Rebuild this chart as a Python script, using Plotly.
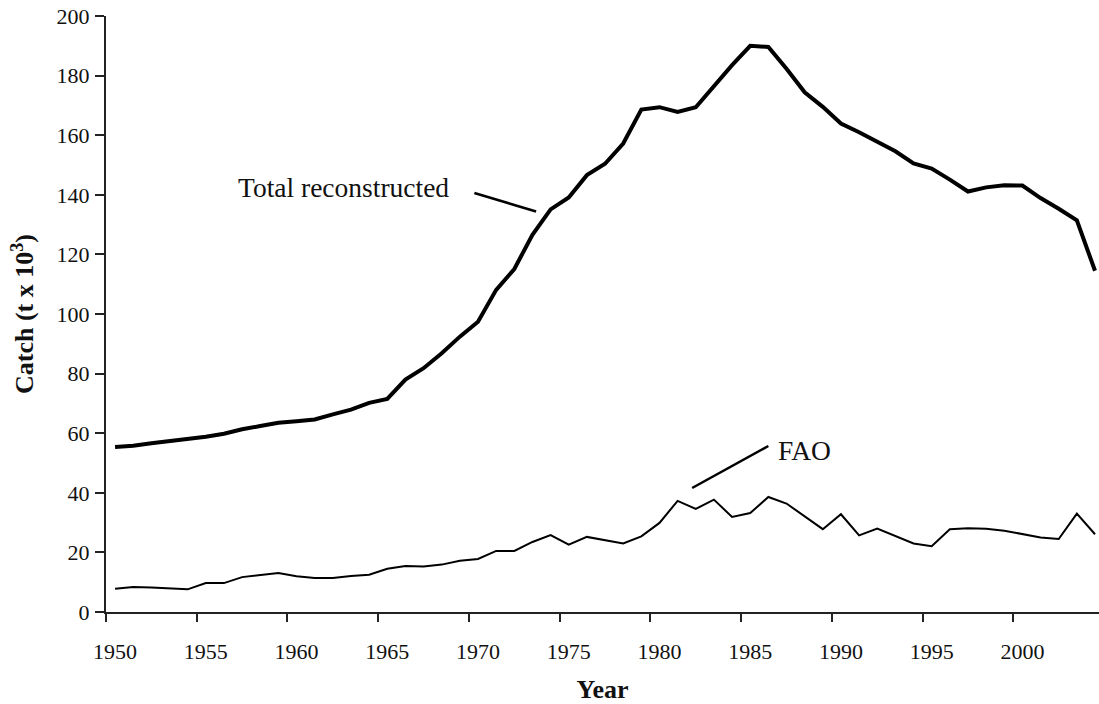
import plotly.graph_objects as go

years = list(range(1950, 2005))

total_reconstructed = [
    55.4, 55.8, 56.6, 57.3, 58.0, 58.8, 59.8, 61.3, 62.4, 63.5,
    64.0, 64.6, 66.3, 67.9, 70.2, 71.5, 78.0, 81.8, 86.8, 92.4,
    97.4, 108.1, 115.1, 126.6, 135.1, 139.1, 146.6, 150.4, 157.2, 168.6,
    169.4, 167.8, 169.4, 176.7, 183.5, 190.0, 189.6, 182.3, 174.4, 169.5,
    163.9, 161.0, 157.7, 154.6, 150.5, 148.8, 145.1, 141.1, 142.5, 143.2,
    143.1, 138.9, 135.3, 131.4, 114.5,
]

fao = [
    7.8, 8.4, 8.2, 7.9, 7.6, 9.7, 9.7, 11.7, 12.5, 13.1,
    12.0, 11.4, 11.4, 12.1, 12.5, 14.5, 15.4, 15.3, 15.9, 17.2,
    17.8, 20.5, 20.5, 23.5, 25.8, 22.6, 25.2, 24.1, 23.0, 25.4,
    29.9, 37.3, 34.6, 37.7, 31.9, 33.2, 38.6, 36.4, 32.1, 27.8,
    32.8, 25.7, 28.0, 25.5, 23.0, 22.1, 27.8, 28.1, 27.9, 27.3,
    26.1, 25.0, 24.5, 33.0, 26.1,
]

x_tick_years = list(range(1950, 2001, 5))
x_boundary_ticks = [y - 0.5 for y in range(1950, 2005, 5)]
y_ticks = list(range(0, 201, 20))

FONT = "Times New Roman, Liberation Serif, serif"

fig = go.Figure()
fig.add_trace(go.Scatter(x=years, y=total_reconstructed, mode="lines",
                         line=dict(color="black", width=4), name="Total reconstructed"))
fig.add_trace(go.Scatter(x=years, y=fao, mode="lines",
                         line=dict(color="black", width=2), name="FAO"))

# labels with leader lines
fig.add_annotation(x=1962.6, y=142.3, text="Total reconstructed", showarrow=False,
                   xanchor="center", yanchor="middle",
                   font=dict(family=FONT, size=27.5, color="#111"))
fig.add_shape(type="line", x0=1969.8, y0=140.6, x1=1973.2, y1=134.4,
              line=dict(color="black", width=2.5))
fig.add_annotation(x=1988.0, y=54.3, text="FAO", showarrow=False,
                   xanchor="center", yanchor="middle",
                   font=dict(family=FONT, size=27.5, color="#111"))
fig.add_shape(type="line", x0=1981.8, y0=41.6, x1=1986.0, y1=55.7,
              line=dict(color="black", width=2.5))

fig.update_layout(
    width=1099, height=704,
    margin=dict(l=106, r=0, t=16, b=92),
    paper_bgcolor="white", plot_bgcolor="white",
    showlegend=False,
    font=dict(family=FONT, color="#111"),
)

fig.update_xaxes(
    range=[1949.5, 2004.22],
    tickmode="array", tickvals=x_tick_years,
    ticktext=[str(v) for v in x_tick_years],
    ticks="outside", ticklen=8, tickcolor="rgba(0,0,0,0)",
    ticklabelstandoff=11,
    tickfont=dict(family=FONT, size=22, color="#111"),
    showline=True, linecolor="#222", linewidth=2,
    showgrid=False, zeroline=False,
    minor=dict(tickmode="array", tickvals=x_boundary_ticks, ticks="outside",
               ticklen=8, tickwidth=2, tickcolor="#222", showgrid=False),
    title=dict(text="<b>Year</b>", font=dict(family=FONT, size=26, color="#111"),
               standoff=22),
)

fig.update_yaxes(
    range=[0, 200],
    tickmode="array", tickvals=y_ticks,
    ticks="outside", ticklen=9, tickwidth=2, tickcolor="#222",
    ticklabelstandoff=1,
    tickfont=dict(family=FONT, size=22, color="#111"),
    showline=True, linecolor="#222", linewidth=2,
    showgrid=False, zeroline=False,
    title=dict(text="<b>Catch (t x 10<sup>3</sup>)</b>",
               font=dict(family=FONT, size=26, color="#111"), standoff=15),
)

# remove the default 8px page margin so the figure fills the window exactly
fig.write_html("out.html", config={"displayModeBar": False},
               post_script="document.body.style.margin='0';")
